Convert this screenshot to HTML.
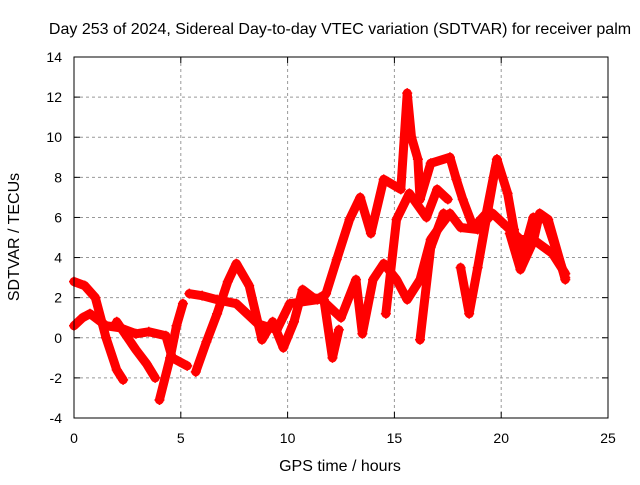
<!DOCTYPE html>
<html><head><meta charset="utf-8"><style>
body{margin:0;background:#fff}
svg text{font-family:"Liberation Sans",sans-serif;font-size:14px;fill:#000}
svg text.big{font-size:16px}
</style></head><body>
<svg id="c" width="640" height="480">
<rect width="640" height="480" fill="#fff"/>
<text class="big" x="340" y="34" text-anchor="middle">Day 253 of 2024, Sidereal Day-to-day VTEC variation (SDTVAR) for receiver palm</text>
<text class="big" x="340" y="471" text-anchor="middle">GPS time / hours</text>
<text class="big" transform="translate(19,237) rotate(-90)" text-anchor="middle">SDTVAR / TECUs</text>
<g id="grid"></g><g id="marks"></g>
<rect x="74" y="57" width="534" height="361" fill="none" stroke="#000" stroke-width="1"/>
</svg>
<script>
const xTicks=[0,5,10,15,20,25];
const yTicks=[-4,-2,0,2,4,6,8,10,12,14];
const track1=[[0,2.8],[0.5,2.6],[1,2.0],[1.5,0],[2,-1.6],[2.3,-2.1]];
const track2=[[0,0.6],[0.4,1.0],[0.75,1.2],[1.5,0.6],[2.15,0.5],[2.9,0.2],[3.5,0.3],[4.3,0.1],[4.6,-1.0],[5.3,-1.4]];
const track3=[[2.0,0.8],[2.9,-0.6],[3.4,-1.3],[3.8,-2.0]];
const track4=[[4.0,-3.1],[4.5,-1.0],[4.8,0.6],[5.1,1.7]];
const track5=[[5.7,-1.7],[6.2,-0.2],[6.7,1.2],[7.2,2.8],[7.6,3.7],[8.2,2.6],[8.8,-0.1],[9.3,0.8],[9.8,-0.5],[10.3,0.8],[10.7,2.4],[11.2,2.0],[11.7,1.9],[12.1,-1.0],[12.4,0.4]];
const track6=[[5.4,2.2],[6.0,2.1],[6.7,1.9],[7.6,1.7],[8.6,0.7],[9.5,0.4],[10.1,1.7],[11.4,1.9],[11.8,2.2],[12.3,3.9],[12.9,5.9],[13.4,7.0],[13.9,5.2],[14.5,7.9],[15.3,7.4],[15.6,12.2],[15.8,10.0],[16.1,8.9],[16.2,6.9],[16.7,8.7],[17.6,9.0],[17.9,7.9],[18.2,6.9],[18.7,5.5],[19.3,6.2],[19.8,8.9],[20.3,7.2],[20.6,5.4],[20.9,3.7],[21.5,6.0],[22.1,5.9],[23.0,3.0]];
const track7=[[11.5,2.0],[12.5,1.0],[13.2,2.9],[13.5,0.2],[14.0,2.9],[14.5,3.7],[15.1,2.9],[15.6,1.9],[16.2,2.9],[16.7,4.9],[17.1,5.5],[17.6,6.2],[18.1,5.5],[18.9,5.4],[19.6,6.2],[20.3,5.5],[20.9,4.9],[21.5,4.9],[22.4,4.2],[23.0,3.2]];
const track8=[[14.6,1.2],[15.1,5.9],[15.7,7.2],[16.5,6.0],[17.0,7.4],[17.5,6.9]];
const track9=[[16.2,-0.1],[16.7,4.5],[17.3,6.2]];
const track10=[[18.1,3.5],[18.5,1.2],[18.9,3.5],[19.3,5.9],[19.8,8.9]];
const track11=[[20.4,5.2],[20.9,3.4],[21.5,4.8],[21.8,6.2],[22.2,5.9],[23.0,2.9]];
const tracks=[track1,track2,track3,track4,track5,track6,track7,track8,track9,track10,track11];
const NS='http://www.w3.org/2000/svg';
const X=h=>74+h*534/25, Y=v=>57+(14-v)*361/18;
const grid=document.getElementById('grid'), marks=document.getElementById('marks');
function mk(t,a,p){const e=document.createElementNS(NS,t);for(const k in a)e.setAttribute(k,a[k]);p.appendChild(e);return e;}
xTicks.forEach(t=>{const x=X(t);
 if(t>0&&t<25){const g=mk('line',{x1:x,x2:x,y1:57,y2:418,stroke:'#999','stroke-dasharray':'3,3'},grid);
 
 }
 mk('line',{x1:x,x2:x,y1:418,y2:412,stroke:'#000'},grid);mk('line',{x1:x,x2:x,y1:57,y2:63,stroke:'#000'},grid);
 const l=mk('text',{x:x,y:443,'text-anchor':'middle'},grid);l.textContent=t;
 
 });
yTicks.forEach(t=>{const y=Y(t);
 if(t>-4&&t<14){const g=mk('line',{x1:74,x2:608,y1:y,y2:y,stroke:'#999','stroke-dasharray':'3,3'},grid);
 
 }
 mk('line',{x1:74,x2:80,y1:y,y2:y,stroke:'#000'},grid);mk('line',{x1:602,x2:608,y1:y,y2:y,stroke:'#000'},grid);
 const l=mk('text',{x:62,y:y+5,'text-anchor':'end'},grid);l.textContent=t;
 
 });
tracks.forEach((tr,i)=>{
 const p=mk('polyline',{points:tr.map(d=>X(d[0])+','+Y(d[1])).join(' '),fill:'none',stroke:'#f00','stroke-width':9,'stroke-linejoin':'round','stroke-linecap':'round'},marks);
 
 
 tr.forEach(d=>{const m=mk('path',{d:`M${X(d[0])-5},${Y(d[1])}h10M${X(d[0])},${Y(d[1])-5}v10`,stroke:'#f00','stroke-width':1.5},marks);
  
  });
});
</script>
</body></html>
